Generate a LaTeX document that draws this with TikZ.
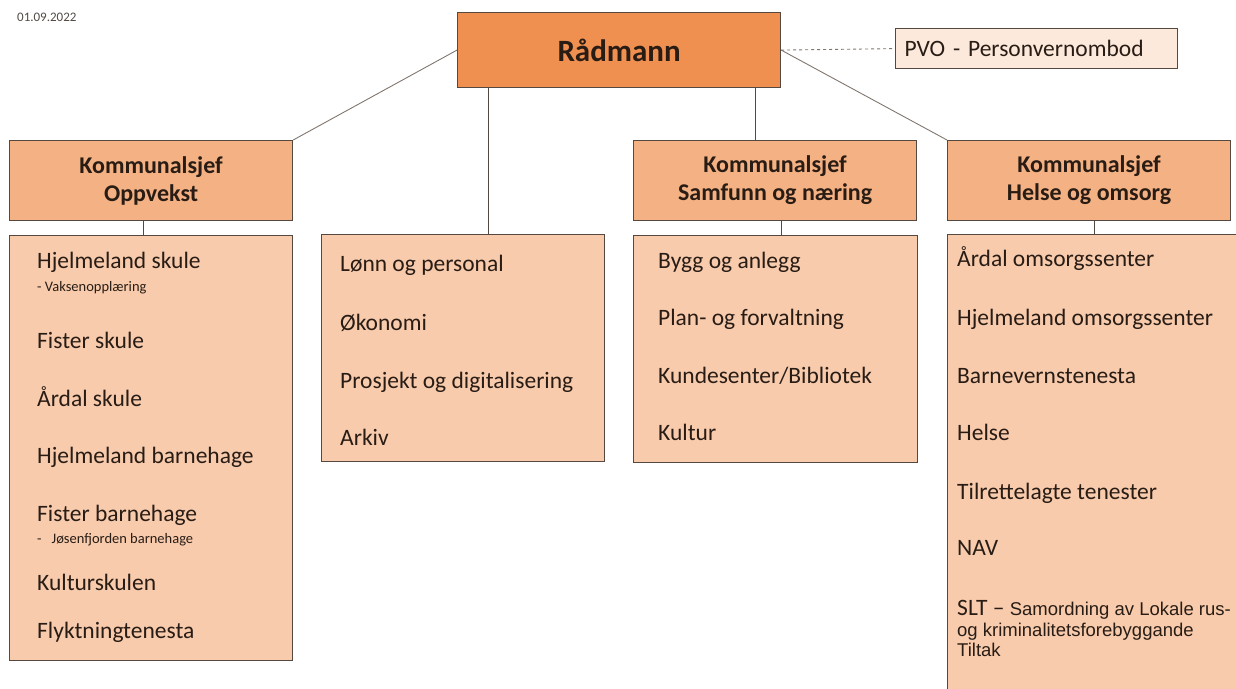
\documentclass[tikz,border=0pt]{standalone}
\usepackage{fontspec}
\setmainfont{Carlito}
\newfontfamily\arialfont{Liberation Sans}
\usepackage{tikz}
\usetikzlibrary{positioning}
\definecolor{chieforange}{RGB}{239, 143, 80}
\definecolor{headorange}{RGB}{244, 177, 131}
\definecolor{listorange}{RGB}{248, 203, 173}
\definecolor{paleorange}{RGB}{252, 233, 220}
\definecolor{edgegray}{RGB}{85, 72, 64}
\definecolor{inkbrown}{RGB}{40, 28, 20}
\tikzset{
  boxchief/.style={
    rectangle, fill=chieforange, draw=edgegray, line width=1.2pt,
    text=inkbrown, font=\fontsize{31}{36}\selectfont\bfseries,
    minimum width=323pt, minimum height=75pt, inner sep=0pt
  },
  boxhead/.style={
    rectangle, fill=headorange, draw=edgegray, line width=1.2pt,
    text=inkbrown, font=\fontsize{24}{28}\selectfont\bfseries,
    align=center, minimum width=283pt, minimum height=80pt, inner sep=0pt
  },
  boxlist/.style={
    rectangle, fill=listorange, draw=edgegray, line width=1.2pt,
    minimum width=283pt, inner sep=0pt
  },
  boxpale/.style={
    rectangle, fill=paleorange, draw=edgegray, line width=1.2pt,
    text=inkbrown, font=\fontsize{23.5}{28}\selectfont,
    text width=264pt, align=left, minimum height=40pt,
    inner xsep=9pt, inner ysep=0pt
  },
  item/.style={anchor=base west, inner sep=0pt, text=inkbrown,
    font=\fontsize{23.5}{28}\selectfont},
  subitem/.style={anchor=base west, inner sep=0pt, text=inkbrown,
    font=\fontsize{14.5}{17}\selectfont},
  smallitem/.style={anchor=base west, inner sep=0pt, text=inkbrown,
    font=\arialfont\fontsize{18.5}{21}\selectfont},
  line/.style={draw=edgegray, line width=1pt},
  slant/.style={draw=edgegray!75, line width=0.9pt}
}

\begin{document}
\begin{tikzpicture}[x=1pt, y=-1pt]

  \path[use as bounding box] (0,0) rectangle (1236,688);
  \clip (0,0) rectangle (1236,688);

  \node[anchor=west, inner sep=0pt, text=inkbrown!80, font=\fontsize{13}{15}\selectfont] (date) at (17,17) {01.09.2022};

  % --- Toppleiing ---
  \node[boxchief, anchor=north west] (chief) at (457,12) {Rådmann};
  \node[boxpale, anchor=north west] (pvo) at (895,28) {PVO - Personvernombod};

  % --- Kommunalsjefar ---
  \node[boxhead, anchor=north west] (oppHead) at (9,140) {Kommunalsjef\\Oppvekst};
  \node[boxhead, anchor=north west] (samHead) at (633,140) {Kommunalsjef\\Samfunn og næring};
  \node[boxhead, anchor=north west] (helseHead) at (947,140) {Kommunalsjef\\Helse og omsorg};

  % --- Einingar ---
  \node[boxlist, below=14pt of oppHead, minimum height=425pt] (oppList) {};
  \node[boxlist, anchor=north west, minimum height=227pt] (adminList) at (321,234) {};
  \node[boxlist, below=14pt of samHead, minimum width=284pt, minimum height=227pt] (samList) {};
  \node[boxlist, anchor=north west, minimum width=300pt, minimum height=470pt] (helseList) at (947,234) {};

  \foreach \y/\txt [count=\i] in {268/Hjelmeland skule, 348/Fister skule, 406/Årdal skule,
      463/Hjelmeland barnehage, 521/Fister barnehage, 590/Kulturskulen, 638/Flyktningtenesta}
    \node[item] (opp\i) at (37,\y) {\txt};
  \node[subitem] (oppSub1) at (37,291) {- Vaksenopplæring};
  \node[subitem] (oppSub2) at (37,543) {-\hspace{10pt}Jøsenfjorden barnehage};

  \foreach \y/\txt [count=\i] in {271/Lønn og personal, 330/Økonomi,
      388/Prosjekt og digitalisering, 445/Arkiv}
    \node[item] (admin\i) at (340,\y) {\txt};

  \foreach \y/\txt [count=\i] in {268/Bygg og anlegg, 325/Plan- og forvaltning,
      383/{Kundesenter/Bibliotek}, 440/Kultur}
    \node[item] (sam\i) at (658,\y) {\txt};

  \foreach \y/\txt [count=\i] in {266/Årdal omsorgssenter, 325/Hjelmeland omsorgssenter,
      383/Barnevernstenesta, 440/Helse, 499/Tilrettelagte tenester, 555/NAV}
    \node[item] (helse\i) at (957,\y) {\txt};
  \node[smallitem] (slt1) at (957,615) {{\normalfont\fontsize{23.5}{28}\selectfont SLT –} Samordning av Lokale rus-};
  \node[smallitem] (slt2) at (957,636) {og kriminalitetsforebyggande};
  \node[smallitem] (slt3) at (957,656) {Tiltak};

  % --- Linjer ---
  \draw[slant] (chief.west) -- (oppHead.north east);
  \draw[line] ([xshift=31pt]chief.south west) -- ([xshift=31pt]chief.south west |- adminList.north);
  \draw[line] ([xshift=-26pt]chief.south east) -- ([xshift=-26pt]chief.south east |- samHead.north);
  \draw[slant] (chief.east) -- (helseHead.north west);
  \draw[slant, dashed] (chief.east) -- (pvo.west);
  \draw[line] ([xshift=-8pt]oppHead.south) -- ([xshift=-8pt]oppHead.south |- oppList.north);
  \draw[line] ([xshift=6pt]samHead.south) -- ([xshift=6pt]samHead.south |- samList.north);
  \draw[line] ([xshift=5pt]helseHead.south) -- ([xshift=5pt]helseHead.south |- helseList.north);

\end{tikzpicture}
\end{document}
